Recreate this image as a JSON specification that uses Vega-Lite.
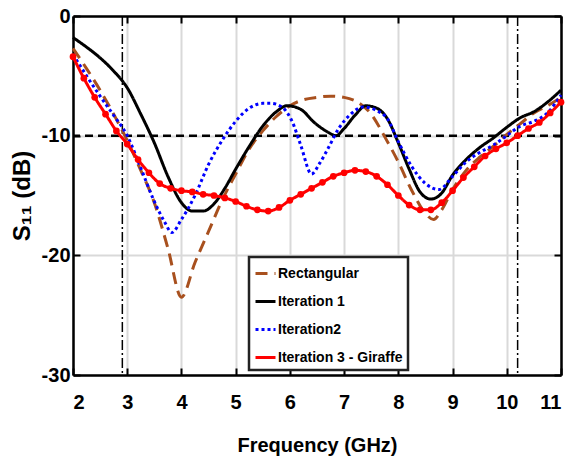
{
  "$schema": "https://vega.github.io/schema/vega-lite/v6.json",
  "width": 488,
  "height": 359,
  "autosize": {"type": "none"},
  "padding": {"left": 73, "top": 16, "right": 13, "bottom": 89},
  "background": "white",
  "datasets": {
    "curves": [
      {"series": "Rectangular", "f": 2.0, "s11": -2.7},
      {"series": "Rectangular", "f": 2.25, "s11": -4.4},
      {"series": "Rectangular", "f": 2.5, "s11": -6.2},
      {"series": "Rectangular", "f": 2.75, "s11": -8.2},
      {"series": "Rectangular", "f": 3.0, "s11": -10.4},
      {"series": "Rectangular", "f": 3.25, "s11": -12.9},
      {"series": "Rectangular", "f": 3.5, "s11": -15.6},
      {"series": "Rectangular", "f": 3.75, "s11": -19.4},
      {"series": "Rectangular", "f": 4.0, "s11": -23.5},
      {"series": "Rectangular", "f": 4.25, "s11": -20.6},
      {"series": "Rectangular", "f": 4.5, "s11": -18.0},
      {"series": "Rectangular", "f": 4.75, "s11": -15.4},
      {"series": "Rectangular", "f": 5.0, "s11": -13.2},
      {"series": "Rectangular", "f": 5.25, "s11": -11.1},
      {"series": "Rectangular", "f": 5.5, "s11": -9.6},
      {"series": "Rectangular", "f": 5.75, "s11": -8.4},
      {"series": "Rectangular", "f": 6.0, "s11": -7.5},
      {"series": "Rectangular", "f": 6.25, "s11": -7.0},
      {"series": "Rectangular", "f": 6.5, "s11": -6.8},
      {"series": "Rectangular", "f": 6.75, "s11": -6.7},
      {"series": "Rectangular", "f": 7.0, "s11": -6.8},
      {"series": "Rectangular", "f": 7.25, "s11": -7.2},
      {"series": "Rectangular", "f": 7.5, "s11": -8.2},
      {"series": "Rectangular", "f": 7.75, "s11": -10.1},
      {"series": "Rectangular", "f": 8.0, "s11": -12.2},
      {"series": "Rectangular", "f": 8.25, "s11": -14.6},
      {"series": "Rectangular", "f": 8.5, "s11": -16.5},
      {"series": "Rectangular", "f": 8.65, "s11": -17.0},
      {"series": "Rectangular", "f": 8.8, "s11": -16.2},
      {"series": "Rectangular", "f": 9.0, "s11": -14.5},
      {"series": "Rectangular", "f": 9.25, "s11": -12.9},
      {"series": "Rectangular", "f": 9.5, "s11": -11.8},
      {"series": "Rectangular", "f": 9.75, "s11": -10.9},
      {"series": "Rectangular", "f": 10.0, "s11": -9.9},
      {"series": "Rectangular", "f": 10.25, "s11": -9.0},
      {"series": "Rectangular", "f": 10.5, "s11": -8.1},
      {"series": "Rectangular", "f": 10.75, "s11": -7.5},
      {"series": "Rectangular", "f": 11.0, "s11": -6.8},
      {"series": "Iteration 1", "f": 2.0, "s11": -1.8},
      {"series": "Iteration 1", "f": 2.25, "s11": -2.6},
      {"series": "Iteration 1", "f": 2.5, "s11": -3.5},
      {"series": "Iteration 1", "f": 2.75, "s11": -4.6},
      {"series": "Iteration 1", "f": 3.0, "s11": -6.0},
      {"series": "Iteration 1", "f": 3.25, "s11": -8.2},
      {"series": "Iteration 1", "f": 3.5, "s11": -10.6},
      {"series": "Iteration 1", "f": 3.75, "s11": -13.4},
      {"series": "Iteration 1", "f": 4.0, "s11": -15.6},
      {"series": "Iteration 1", "f": 4.2, "s11": -16.3},
      {"series": "Iteration 1", "f": 4.4, "s11": -16.3},
      {"series": "Iteration 1", "f": 4.6, "s11": -15.7},
      {"series": "Iteration 1", "f": 4.8, "s11": -14.4},
      {"series": "Iteration 1", "f": 5.0, "s11": -12.8},
      {"series": "Iteration 1", "f": 5.25, "s11": -10.9},
      {"series": "Iteration 1", "f": 5.5, "s11": -9.2},
      {"series": "Iteration 1", "f": 5.75, "s11": -8.0},
      {"series": "Iteration 1", "f": 5.95, "s11": -7.5},
      {"series": "Iteration 1", "f": 6.2, "s11": -7.8},
      {"series": "Iteration 1", "f": 6.45, "s11": -8.9},
      {"series": "Iteration 1", "f": 6.7, "s11": -9.7},
      {"series": "Iteration 1", "f": 6.85, "s11": -10.0},
      {"series": "Iteration 1", "f": 7.0, "s11": -9.4},
      {"series": "Iteration 1", "f": 7.2, "s11": -8.3},
      {"series": "Iteration 1", "f": 7.4, "s11": -7.5},
      {"series": "Iteration 1", "f": 7.6, "s11": -7.7},
      {"series": "Iteration 1", "f": 7.8, "s11": -8.6},
      {"series": "Iteration 1", "f": 8.0, "s11": -10.6},
      {"series": "Iteration 1", "f": 8.2, "s11": -12.8},
      {"series": "Iteration 1", "f": 8.4, "s11": -14.7},
      {"series": "Iteration 1", "f": 8.6, "s11": -15.3},
      {"series": "Iteration 1", "f": 8.8, "s11": -14.8},
      {"series": "Iteration 1", "f": 9.0, "s11": -13.3},
      {"series": "Iteration 1", "f": 9.25, "s11": -12.0},
      {"series": "Iteration 1", "f": 9.5, "s11": -11.0},
      {"series": "Iteration 1", "f": 9.75, "s11": -10.2},
      {"series": "Iteration 1", "f": 10.0, "s11": -9.3},
      {"series": "Iteration 1", "f": 10.25, "s11": -8.5},
      {"series": "Iteration 1", "f": 10.5, "s11": -8.0},
      {"series": "Iteration 1", "f": 10.75, "s11": -7.2},
      {"series": "Iteration 1", "f": 11.0, "s11": -6.2},
      {"series": "Iteration2", "f": 2.0, "s11": -3.2},
      {"series": "Iteration2", "f": 2.25, "s11": -5.0},
      {"series": "Iteration2", "f": 2.5, "s11": -6.7},
      {"series": "Iteration2", "f": 2.75, "s11": -8.3},
      {"series": "Iteration2", "f": 3.0, "s11": -10.0},
      {"series": "Iteration2", "f": 3.25, "s11": -12.7},
      {"series": "Iteration2", "f": 3.5, "s11": -15.5},
      {"series": "Iteration2", "f": 3.7, "s11": -17.3},
      {"series": "Iteration2", "f": 3.82, "s11": -18.1},
      {"series": "Iteration2", "f": 4.0, "s11": -17.0},
      {"series": "Iteration2", "f": 4.25, "s11": -15.0},
      {"series": "Iteration2", "f": 4.5, "s11": -12.4},
      {"series": "Iteration2", "f": 4.75, "s11": -10.4},
      {"series": "Iteration2", "f": 5.0, "s11": -8.8},
      {"series": "Iteration2", "f": 5.25, "s11": -7.7},
      {"series": "Iteration2", "f": 5.5, "s11": -7.3},
      {"series": "Iteration2", "f": 5.65, "s11": -7.3},
      {"series": "Iteration2", "f": 5.85, "s11": -7.6},
      {"series": "Iteration2", "f": 6.05, "s11": -8.9},
      {"series": "Iteration2", "f": 6.2, "s11": -10.8},
      {"series": "Iteration2", "f": 6.4, "s11": -13.2},
      {"series": "Iteration2", "f": 6.55, "s11": -12.3},
      {"series": "Iteration2", "f": 6.7, "s11": -11.1},
      {"series": "Iteration2", "f": 6.9, "s11": -9.4},
      {"series": "Iteration2", "f": 7.1, "s11": -8.3},
      {"series": "Iteration2", "f": 7.35, "s11": -7.6},
      {"series": "Iteration2", "f": 7.6, "s11": -7.9},
      {"series": "Iteration2", "f": 7.8, "s11": -8.6},
      {"series": "Iteration2", "f": 8.0, "s11": -10.5},
      {"series": "Iteration2", "f": 8.25, "s11": -12.6},
      {"series": "Iteration2", "f": 8.5, "s11": -14.0},
      {"series": "Iteration2", "f": 8.75, "s11": -14.5},
      {"series": "Iteration2", "f": 9.0, "s11": -13.4},
      {"series": "Iteration2", "f": 9.25, "s11": -12.2},
      {"series": "Iteration2", "f": 9.5, "s11": -11.4},
      {"series": "Iteration2", "f": 9.75, "s11": -10.8},
      {"series": "Iteration2", "f": 10.0, "s11": -10.0},
      {"series": "Iteration2", "f": 10.25, "s11": -9.2},
      {"series": "Iteration2", "f": 10.5, "s11": -8.8},
      {"series": "Iteration2", "f": 10.75, "s11": -8.1},
      {"series": "Iteration2", "f": 11.0, "s11": -6.6},
      {"series": "Iteration 3 - Giraffe", "f": 2.0, "s11": -3.4},
      {"series": "Iteration 3 - Giraffe", "f": 2.2, "s11": -5.2},
      {"series": "Iteration 3 - Giraffe", "f": 2.4, "s11": -6.8},
      {"series": "Iteration 3 - Giraffe", "f": 2.6, "s11": -8.2},
      {"series": "Iteration 3 - Giraffe", "f": 2.8, "s11": -9.6},
      {"series": "Iteration 3 - Giraffe", "f": 3.0, "s11": -10.7},
      {"series": "Iteration 3 - Giraffe", "f": 3.2, "s11": -12.0},
      {"series": "Iteration 3 - Giraffe", "f": 3.4, "s11": -13.1},
      {"series": "Iteration 3 - Giraffe", "f": 3.6, "s11": -14.0},
      {"series": "Iteration 3 - Giraffe", "f": 3.8, "s11": -14.4},
      {"series": "Iteration 3 - Giraffe", "f": 4.0, "s11": -14.6},
      {"series": "Iteration 3 - Giraffe", "f": 4.2, "s11": -14.7},
      {"series": "Iteration 3 - Giraffe", "f": 4.4, "s11": -14.9},
      {"series": "Iteration 3 - Giraffe", "f": 4.6, "s11": -15.0},
      {"series": "Iteration 3 - Giraffe", "f": 4.8, "s11": -15.2},
      {"series": "Iteration 3 - Giraffe", "f": 5.0, "s11": -15.5},
      {"series": "Iteration 3 - Giraffe", "f": 5.2, "s11": -15.9},
      {"series": "Iteration 3 - Giraffe", "f": 5.4, "s11": -16.2},
      {"series": "Iteration 3 - Giraffe", "f": 5.6, "s11": -16.3},
      {"series": "Iteration 3 - Giraffe", "f": 5.8, "s11": -16.0},
      {"series": "Iteration 3 - Giraffe", "f": 6.0, "s11": -15.4},
      {"series": "Iteration 3 - Giraffe", "f": 6.2, "s11": -14.9},
      {"series": "Iteration 3 - Giraffe", "f": 6.4, "s11": -14.4},
      {"series": "Iteration 3 - Giraffe", "f": 6.6, "s11": -13.9},
      {"series": "Iteration 3 - Giraffe", "f": 6.8, "s11": -13.4},
      {"series": "Iteration 3 - Giraffe", "f": 7.0, "s11": -13.1},
      {"series": "Iteration 3 - Giraffe", "f": 7.2, "s11": -12.9},
      {"series": "Iteration 3 - Giraffe", "f": 7.4, "s11": -13.0},
      {"series": "Iteration 3 - Giraffe", "f": 7.6, "s11": -13.4},
      {"series": "Iteration 3 - Giraffe", "f": 7.8, "s11": -14.1},
      {"series": "Iteration 3 - Giraffe", "f": 8.0, "s11": -15.0},
      {"series": "Iteration 3 - Giraffe", "f": 8.2, "s11": -15.8},
      {"series": "Iteration 3 - Giraffe", "f": 8.4, "s11": -16.2},
      {"series": "Iteration 3 - Giraffe", "f": 8.6, "s11": -16.2},
      {"series": "Iteration 3 - Giraffe", "f": 8.8, "s11": -15.6},
      {"series": "Iteration 3 - Giraffe", "f": 9.0, "s11": -14.6},
      {"series": "Iteration 3 - Giraffe", "f": 9.2, "s11": -13.5},
      {"series": "Iteration 3 - Giraffe", "f": 9.4, "s11": -12.6},
      {"series": "Iteration 3 - Giraffe", "f": 9.6, "s11": -11.7},
      {"series": "Iteration 3 - Giraffe", "f": 9.8, "s11": -11.1},
      {"series": "Iteration 3 - Giraffe", "f": 10.0, "s11": -10.6},
      {"series": "Iteration 3 - Giraffe", "f": 10.2, "s11": -10.0},
      {"series": "Iteration 3 - Giraffe", "f": 10.4, "s11": -9.4},
      {"series": "Iteration 3 - Giraffe", "f": 10.6, "s11": -8.9},
      {"series": "Iteration 3 - Giraffe", "f": 10.8, "s11": -8.1},
      {"series": "Iteration 3 - Giraffe", "f": 11.0, "s11": -7.2}
    ],
    "vrefs": [{"f": 2.91}, {"f": 10.2}],
    "hrefs": [{"s11": -10}]
  },
  "config": {
    "view": {"stroke": null},
    "legend": {"strokeWidth": 2.5},
    "axis": {
      "labelFont": "Liberation Sans",
      "labelFontWeight": "bold",
      "labelFontSize": 20,
      "labelColor": "black",
      "titleFont": "Liberation Sans",
      "titleFontWeight": "bold",
      "titleColor": "black",
      "domainColor": "black",
      "domainWidth": 2.5,
      "tickColor": "black",
      "tickWidth": 2,
      "gridColor": "#d9d9d9",
      "gridWidth": 2,
      "gridOpacity": 1
    }
  },
  "resolve": {"axis": {"x": "independent", "y": "independent"}},
  "layer": [
    {
      "data": {"name": "vrefs"},
      "mark": {"type": "rule", "color": "black", "strokeWidth": 1.5, "strokeDash": [10, 3, 2, 3]},
      "encoding": {
        "x": {"field": "f", "type": "quantitative", "scale": {"domain": [2, 11], "nice": false}, "axis": null}
      }
    },
    {
      "data": {"name": "hrefs"},
      "mark": {"type": "rule", "color": "black", "strokeWidth": 2.5, "strokeDash": [8, 5]},
      "encoding": {
        "y": {"field": "s11", "type": "quantitative", "scale": {"domain": [-30, 0], "nice": false}, "axis": null}
      }
    },
    {
      "data": {"name": "curves"},
      "transform": [{"filter": "datum.series === 'Rectangular'"}],
      "mark": {"type": "line", "strokeWidth": 3, "interpolate": "monotone"},
      "encoding": {
        "x": {"field": "f", "type": "quantitative", "scale": {"domain": [2, 11], "nice": false},
          "axis": {"orient": "bottom", "values": [2, 3, 4, 5, 6, 7, 8, 9, 10, 11], "grid": true, "tickSize": -7, "labelPadding": 24, "title": "Frequency (GHz)", "titleFontSize": 20, "titlePadding": 23}},
        "y": {"field": "s11", "type": "quantitative", "scale": {"domain": [-30, 0], "nice": false},
          "axis": {"orient": "left", "values": [-30, -20, -10, 0], "grid": true, "tickSize": -7, "labelPadding": 10, "labelExpr": "datum.value < 0 ? '-' + abs(datum.value) : '' + datum.value", "title": "S₁₁  (dB)", "titleFontSize": 24, "titlePadding": 7}},
        "color": {"field": "series", "type": "nominal",
          "scale": {"domain": ["Rectangular", "Iteration 1", "Iteration2", "Iteration 3 - Giraffe"], "range": ["#A8501E", "#000000", "#0000FF", "#FF0000"]},
          "legend": {"orient": "none", "legendX": 176, "legendY": 241, "title": null, "symbolType": "stroke", "symbolSize": 400, "symbolStrokeWidth": 3, "labelFont": "Liberation Sans", "labelFontWeight": "bold", "labelFontSize": 14, "labelColor": "black", "labelOffset": 1, "rowPadding": 9, "padding": 5, "strokeColor": "#222", "fillColor": "white",
            "encode": {"legend": {"update": {"stroke": {"value": "#222"}, "strokeWidth": {"value": 2.5}}}}}},
        "strokeDash": {"field": "series", "type": "nominal",
          "scale": {"domain": ["Rectangular", "Iteration 1", "Iteration2", "Iteration 3 - Giraffe"], "range": [[12, 7], [1, 0], [3, 3], [1, 0]]},
          "legend": {"orient": "none", "legendX": 176, "legendY": 241, "title": null, "symbolType": "stroke", "symbolSize": 400, "symbolStrokeWidth": 3, "labelFont": "Liberation Sans", "labelFontWeight": "bold", "labelFontSize": 14, "labelColor": "black", "labelOffset": 1, "rowPadding": 9, "padding": 5, "strokeColor": "#222", "fillColor": "white",
            "encode": {"legend": {"update": {"stroke": {"value": "#222"}, "strokeWidth": {"value": 2.5}}}}}}
      }
    },
    {
      "data": {"name": "curves"},
      "transform": [{"filter": "datum.series === 'Iteration 1'"}],
      "mark": {"type": "line", "strokeWidth": 3, "interpolate": "monotone"},
      "encoding": {
        "x": {"field": "f", "type": "quantitative", "scale": {"domain": [2, 11], "nice": false},
          "axis": {"orient": "top", "values": [2, 3, 4, 5, 6, 7, 8, 9, 10, 11], "grid": false, "labels": false, "tickSize": -7, "title": null}},
        "y": {"field": "s11", "type": "quantitative", "scale": {"domain": [-30, 0], "nice": false},
          "axis": {"orient": "right", "values": [-30, -20, -10, 0], "grid": false, "labels": false, "tickSize": -7, "title": null}},
        "color": {"field": "series", "type": "nominal"},
        "strokeDash": {"field": "series", "type": "nominal"}
      }
    },
    {
      "data": {"name": "curves"},
      "transform": [{"filter": "datum.series === 'Iteration2'"}],
      "mark": {"type": "line", "strokeWidth": 3, "interpolate": "monotone"},
      "encoding": {
        "x": {"field": "f", "type": "quantitative", "axis": null},
        "y": {"field": "s11", "type": "quantitative", "axis": null},
        "color": {"field": "series", "type": "nominal"},
        "strokeDash": {"field": "series", "type": "nominal"}
      }
    },
    {
      "data": {"name": "curves"},
      "transform": [{"filter": "datum.series === 'Iteration 3 - Giraffe'"}],
      "mark": {"type": "line", "strokeWidth": 3, "interpolate": "monotone"},
      "encoding": {
        "x": {"field": "f", "type": "quantitative", "axis": null},
        "y": {"field": "s11", "type": "quantitative", "axis": null},
        "color": {"field": "series", "type": "nominal"},
        "strokeDash": {"field": "series", "type": "nominal"}
      }
    },
    {
      "data": {"name": "curves"},
      "transform": [{"filter": "datum.series === 'Iteration 3 - Giraffe'"}],
      "mark": {"type": "point", "filled": true, "size": 45, "color": "#FF0000", "opacity": 1},
      "encoding": {
        "x": {"field": "f", "type": "quantitative", "axis": null},
        "y": {"field": "s11", "type": "quantitative", "axis": null}
      }
    }
  ]
}
